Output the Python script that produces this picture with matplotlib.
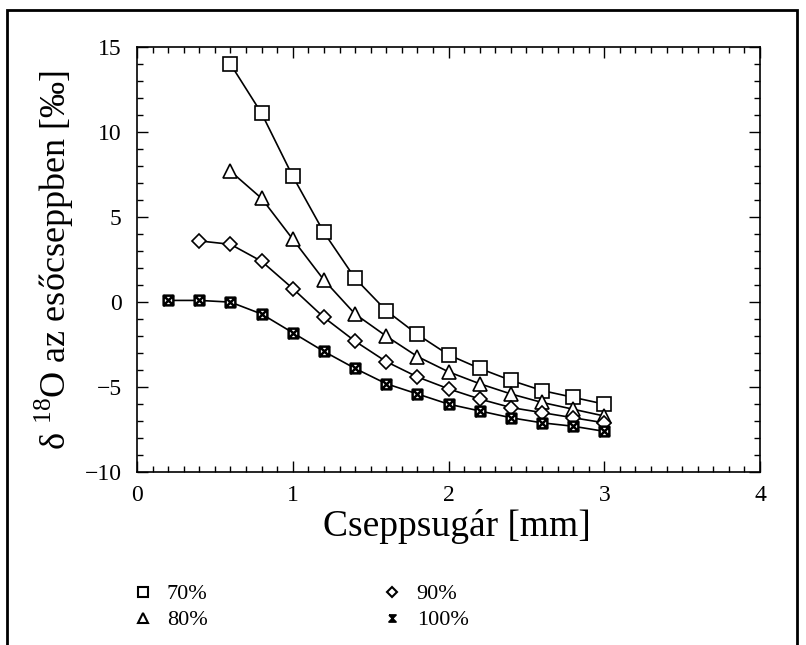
import matplotlib.pyplot as plt
from matplotlib.lines import Line2D
from matplotlib.patches import Rectangle
from matplotlib.path import Path
from matplotlib.ticker import MultipleLocator

plt.rcParams['font.family'] = ['Liberation Serif', 'DejaVu Serif']
plt.rcParams['mathtext.fontset'] = 'custom'
plt.rcParams['mathtext.rm'] = 'Liberation Serif'

# drop radius [mm] and delta-18O of the drops [permil] for four humidity levels
r_70 = [0.6, 0.8, 1.0, 1.2, 1.4, 1.6, 1.8, 2.0, 2.2, 2.4, 2.6, 2.8, 3.0]
d_70 = [14.0, 11.1, 7.4, 4.1, 1.4, -0.5, -1.9, -3.1, -3.9, -4.6, -5.2, -5.6, -6.0]

r_80 = [0.6, 0.8, 1.0, 1.2, 1.4, 1.6, 1.8, 2.0, 2.2, 2.4, 2.6, 2.8, 3.0]
d_80 = [7.7, 6.1, 3.7, 1.3, -0.7, -2.0, -3.2, -4.1, -4.8, -5.4, -5.9, -6.3, -6.7]

r_90 = [0.4, 0.6, 0.8, 1.0, 1.2, 1.4, 1.6, 1.8, 2.0, 2.2, 2.4, 2.6, 2.8, 3.0]
d_90 = [3.6, 3.4, 2.4, 0.8, -0.9, -2.3, -3.5, -4.4, -5.1, -5.7, -6.2, -6.5, -6.8, -7.1]

r_100 = [0.2, 0.4, 0.6, 0.8, 1.0, 1.2, 1.4, 1.6, 1.8, 2.0, 2.2, 2.4, 2.6, 2.8, 3.0]
d_100 = [0.1, 0.1, 0.0, -0.7, -1.8, -2.9, -3.9, -4.8, -5.4, -6.0, -6.4, -6.8, -7.1, -7.3, -7.6]

labels = ['70%', '80%', '90%', '100%']

# boxed cross used for the saturated case
boxcross = Path([(-1, -1), (1, -1), (1, 1), (-1, 1), (-1, -1), (1, 1), (-1, 1), (1, -1)],
                [Path.MOVETO, Path.LINETO, Path.LINETO, Path.LINETO, Path.LINETO,
                 Path.LINETO, Path.MOVETO, Path.LINETO])
# bow-tie cross for the legend key
bowtie = Path([(-1, 1), (1, 1), (-1, -1), (1, -1), (-1, 1)],
              [Path.MOVETO, Path.LINETO, Path.LINETO, Path.LINETO, Path.LINETO])

styles = [
    dict(marker='s', markersize=10),
    dict(marker='^', markersize=10),
    dict(marker='D', markersize=7),
    dict(marker=boxcross, markersize=7),
]

fig = plt.figure(figsize=(8.06, 6.45), dpi=100)
ax = fig.add_axes([0.170, 0.268, 0.773, 0.659])

series = [(r_70, d_70), (r_80, d_80), (r_90, d_90), (r_100, d_100)]
for (r, d), st in zip(series, styles):
    mew = 1.8 if st['marker'] is boxcross else 1.2
    ax.plot(r, d, color='black', lw=1.2, mfc='white', mec='black', mew=mew, **st)

ax.set_xlim(0, 4)
ax.set_ylim(-10, 15)
ax.xaxis.set_major_locator(MultipleLocator(1))
ax.xaxis.set_minor_locator(MultipleLocator(0.1))
ax.yaxis.set_major_locator(MultipleLocator(5))
ax.yaxis.set_minor_locator(MultipleLocator(1))
ax.tick_params(which='both', direction='in', top=True, right=True, labelsize=17, width=1)
ax.tick_params(axis='y', which='major', pad=11)
ax.tick_params(axis='x', which='major', pad=9)
ax.tick_params(which='major', length=8)
ax.tick_params(which='minor', length=4)
ax.set_yticks([-10, -5, 0, 5, 10, 15])
ax.set_yticklabels(['\u221210', '\u22125', '0', '5', '10', '15'])
for s in ax.spines.values():
    s.set_linewidth(1.2)

ax.set_xlabel('Cseppsugár [mm]', fontsize=27, labelpad=4)
ax.xaxis.set_label_coords(0.513, -0.087)
ax.set_ylabel('δ $^{18}$O az esőcseppben [‰]', fontsize=26, labelpad=6)

handles = []
for st, lab in zip(styles, labels):
    if st['marker'] is boxcross:
        h = Line2D([], [], ls='none', marker=bowtie, markersize=5, mfc='black',
                   mec='black', mew=1.3, label=lab)
    else:
        h = Line2D([], [], ls='none', marker=st['marker'], markersize=st['markersize'] * 0.75,
                   mfc='white', mec='black', mew=1.5, label=lab)
    handles.append(h)
fig.legend(handles=handles, loc='upper left', bbox_to_anchor=(0.141, 0.126),
           ncol=2, frameon=False, fontsize=16, handlelength=0.8, handletextpad=0.7,
           columnspacing=7.9, labelspacing=0.25)

fig.patches.append(Rectangle((0.009, -0.1), 0.980, 1.085, transform=fig.transFigure,
                             fill=False, edgecolor='black', lw=2))

fig.savefig('out.png', dpi=100)
